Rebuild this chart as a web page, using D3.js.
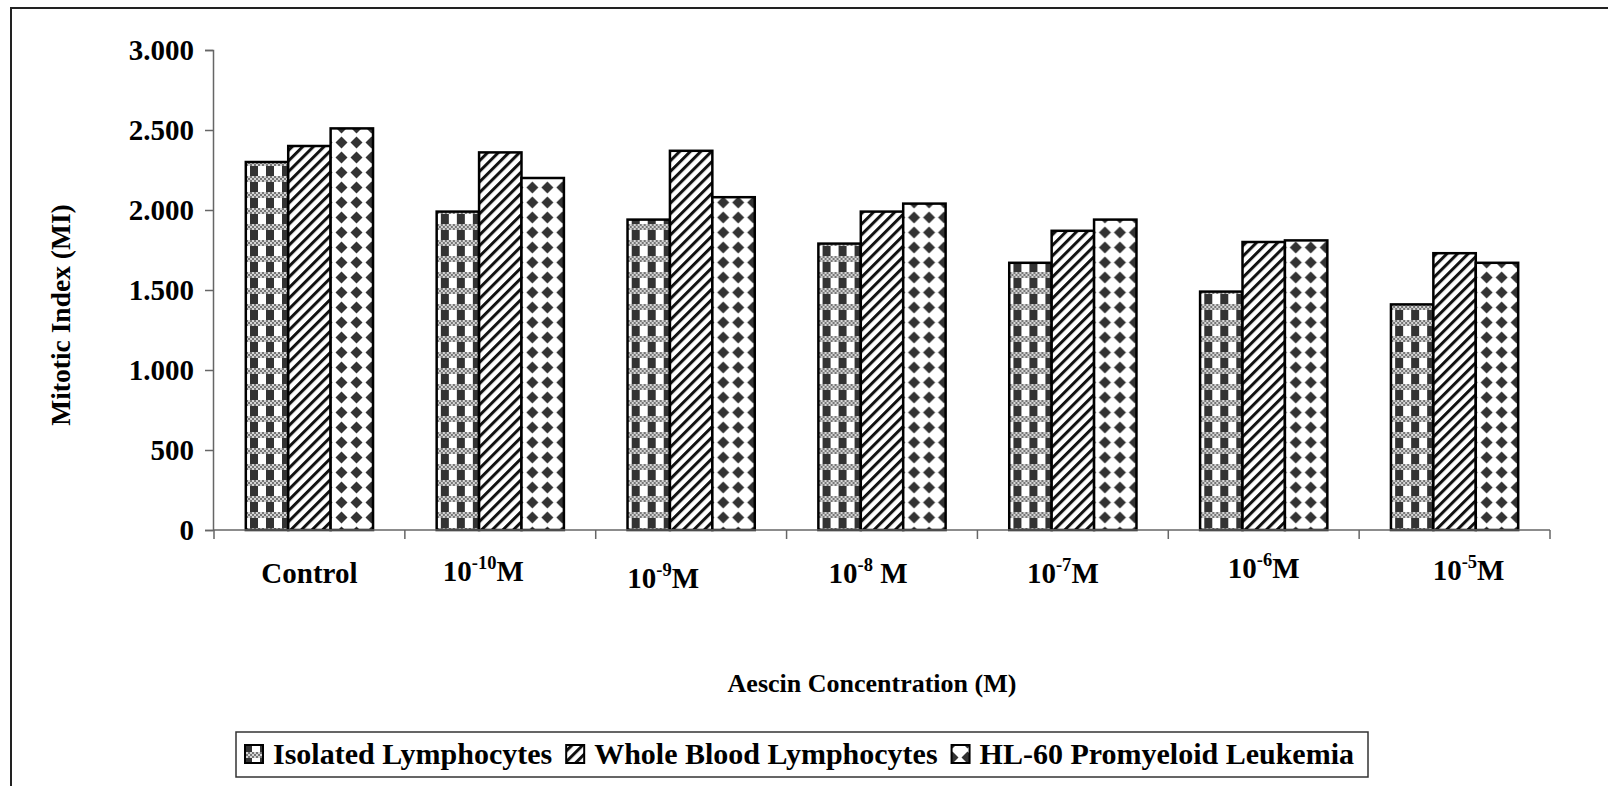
<!DOCTYPE html>
<html>
<head>
<meta charset="utf-8">
<script src="https://cdn.jsdelivr.net/npm/d3@7"></script>
<style>
  html, body { margin: 0; padding: 0; background: #fff; }
  svg { display: block; }
  text { font-family: "Liberation Serif", "Times New Roman", serif; font-weight: bold; fill: #000; }
</style>
</head>
<body>
<svg id="chart" width="1608" height="786"></svg>
<script>
// Mitotic index by aescin concentration, three cell types
const catBase   = ["Control", "10", "10", "10", "10", "10", "10"];
const catExp    = ["", "-10", "-9", "-8", "-7", "-6", "-5"];
const catSuffix = ["", "M", "M", " M", "M", "M", "M"];

const seriesNames = ["Isolated Lymphocytes", "Whole Blood Lymphocytes", "HL-60 Promyeloid Leukemia"];
const isolated   = [2300, 1990, 1940, 1790, 1670, 1490, 1410];
const wholeBlood = [2400, 2360, 2370, 1990, 1870, 1800, 1730];
const hl60       = [2510, 2200, 2080, 2040, 1940, 1810, 1670];
const yTicks = [0, 500, 1000, 1500, 2000, 2500, 3000];

const xTitle = "Aescin Concentration (M)";
const yTitle = "Mitotic Index (MI)";

// hand-placed category label nudges [dx, dy]
const labelNudge = [[0, 0], [-17, -2], [-28, 5], [-14, 0], [-10, 0], [0, -5], [14, -3]];

const svg = d3.select("#chart");
const plot = { left: 214, right: 1550, top: 50, bottom: 530 };

const seriesValues = [isolated, wholeBlood, hl60];
const rows = catBase.map((b, i) => ({ i, values: seriesValues.map(s => s[i]) }));

// fill patterns
const defs = svg.append("defs");
const pIso = defs.append("pattern").attr("id", "p-iso")
  .attr("patternUnits", "userSpaceOnUse").attr("width", 16).attr("height", 16);
pIso.append("rect").attr("width", 16).attr("height", 16).attr("fill", "#fff");
pIso.append("rect").attr("x", 4).attr("y", 0).attr("width", 8).attr("height", 16).attr("fill", "#333");
for (let i = 0; i < 8; i++) {
  for (let j = 0; j < 3; j++) {
    pIso.append("rect").attr("x", i * 2).attr("y", j * 2).attr("width", 2).attr("height", 2)
      .attr("fill", (i + j) % 2 === 0 ? "#777" : "#d4d4d4");
  }
}

const pWb = defs.append("pattern").attr("id", "p-wb")
  .attr("patternUnits", "userSpaceOnUse").attr("width", 7.5).attr("height", 7.5)
  .attr("patternTransform", "rotate(45)");
pWb.append("rect").attr("width", 7.5).attr("height", 7.5).attr("fill", "#fff");
pWb.append("rect").attr("x", 0).attr("width", 3).attr("height", 7.5).attr("fill", "#111");

const pHl = defs.append("pattern").attr("id", "p-hl")
  .attr("patternUnits", "userSpaceOnUse").attr("width", 15).attr("height", 15);
pHl.append("rect").attr("width", 15).attr("height", 15).attr("fill", "#fff");
pHl.append("path").attr("d", "M7.5 1.5 L13.5 7.5 L7.5 13.5 L1.5 7.5 Z").attr("fill", "#333");

const fills = ["url(#p-iso)", "url(#p-wb)", "url(#p-hl)"];

// outer frame
svg.append("rect").attr("x", 11).attr("y", 8).attr("width", 1700).attr("height", 900)
  .attr("fill", "none").attr("stroke", "#222").attr("stroke-width", 2);

// scales
const x0 = d3.scaleBand().domain(d3.range(catBase.length)).range([plot.left, plot.right]).padding(0);
const x1 = d3.scaleBand().domain(d3.range(seriesNames.length)).range([0, x0.bandwidth()])
  .paddingInner(0).paddingOuter(0.75);
const y = d3.scaleLinear().domain([0, 3000]).range([plot.bottom, plot.top]);

const fmt = d3.formatLocale({ decimal: ",", thousands: ".", grouping: [3], currency: ["", ""] }).format(",");

// y axis
const yAxis = svg.append("g").attr("transform", `translate(${plot.left - 1},0)`)
  .call(d3.axisLeft(y).tickValues(yTicks).tickFormat(fmt).tickSize(8).tickPadding(11));
yAxis.select(".domain").attr("stroke", "#666").attr("stroke-width", 1.5);
yAxis.selectAll(".tick line").attr("stroke", "#666").attr("stroke-width", 1.5);
yAxis.selectAll(".tick text").style("font-family", "Liberation Serif").style("font-weight", "bold")
  .style("font-size", "29px").attr("fill", "#000");

// bars
const groups = svg.append("g").selectAll("g").data(rows).join("g")
  .attr("transform", d => `translate(${x0(d.i)},0)`);
groups.selectAll("rect").data(d => d.values.map((v, k) => ({ v, k }))).join("rect")
  .attr("x", d => x1(d.k))
  .attr("y", d => y(d.v))
  .attr("width", x1.bandwidth())
  .attr("height", d => y(0) - y(d.v))
  .attr("fill", d => fills[d.k])
  .attr("stroke", "#000").attr("stroke-width", 2.5);

// x axis (ticks at category boundaries)
const boundaries = d3.range(catBase.length + 1).map(i => plot.left + i * x0.step());
const xAxisG = svg.append("g");
xAxisG.append("line").attr("x1", plot.left - 1).attr("x2", plot.right).attr("y1", plot.bottom).attr("y2", plot.bottom)
  .attr("stroke", "#666").attr("stroke-width", 1.5);
xAxisG.selectAll("line.tk").data(boundaries).join("line").attr("class", "tk")
  .attr("x1", d => d).attr("x2", d => d).attr("y1", plot.bottom).attr("y2", plot.bottom + 9)
  .attr("stroke", "#666").attr("stroke-width", 1.5);

// category labels
const lbl = svg.append("g").selectAll("text").data(rows).join("text")
  .attr("x", d => x0(d.i) + x0.bandwidth() / 2 + labelNudge[d.i][0])
  .attr("y", d => 583 + labelNudge[d.i][1])
  .attr("text-anchor", "middle")
  .style("font-size", "29px");
lbl.append("tspan").text(d => catBase[d.i]);
lbl.filter(d => catExp[d.i] !== "").append("tspan")
  .attr("dy", -12).style("font-size", "18.5px").text(d => catExp[d.i]);
lbl.filter(d => catExp[d.i] !== "").append("tspan")
  .attr("dy", 12).text(d => catSuffix[d.i]);

// axis titles
svg.append("text").attr("x", 872).attr("y", 692).attr("text-anchor", "middle")
  .style("font-size", "26px").text(xTitle);
svg.append("text").attr("transform", "translate(70,315) rotate(-90)").attr("text-anchor", "middle")
  .style("font-size", "27.5px").text(yTitle);

// legend
const legend = svg.append("g");
legend.append("rect").attr("x", 236).attr("y", 732).attr("width", 1132).attr("height", 45)
  .attr("fill", "#fff").attr("stroke", "#333").attr("stroke-width", 1.5);
let lx = 245;
seriesNames.forEach((name, k) => {
  legend.append("rect").attr("x", lx).attr("y", 745).attr("width", 18).attr("height", 18)
    .attr("fill", fills[k]).attr("stroke", "#000").attr("stroke-width", 2);
  const t = legend.append("text").attr("x", lx + 28).attr("y", 764).style("font-size", "30px").text(name);
  lx = lx + 28 + t.node().getComputedTextLength() + 14;
});
</script>
</body>
</html>
